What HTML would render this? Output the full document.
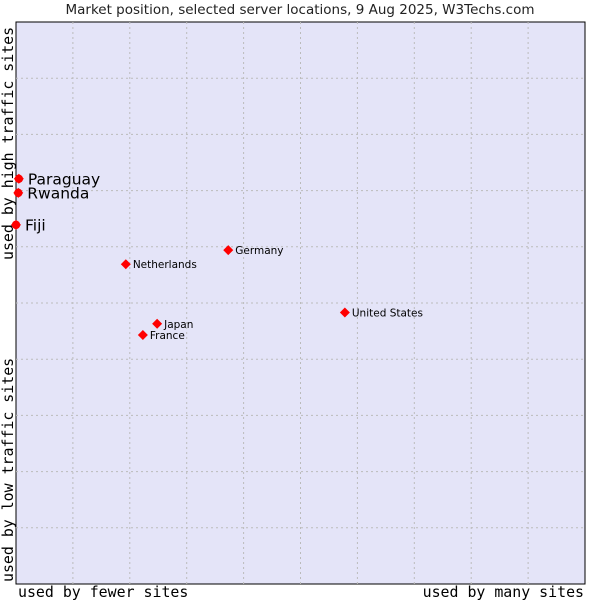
<!DOCTYPE html>
<html><head><meta charset="utf-8"><style>
body{margin:0;background:#fff;width:600px;height:600px;overflow:hidden}
svg{display:block}
</style></head><body>
<svg id="c" width="600" height="600" xmlns="http://www.w3.org/2000/svg">
<text x="300" y="14" text-anchor="middle" font-family="DejaVu Sans, sans-serif" font-size="13.5" fill="#222">Market position, selected server locations, 9 Aug 2025, W3Techs.com</text>
<rect x="16" y="22" width="569" height="562" fill="#e4e4f8" stroke="#000" stroke-width="1"/>
<g id="grid"></g>
<text x="18" y="597" font-family="DejaVu Sans Mono, monospace" font-size="14.9" fill="#000">used by fewer sites</text>
<text x="584" y="597" text-anchor="end" font-family="DejaVu Sans Mono, monospace" font-size="14.9" fill="#000">used by many sites</text>
<text transform="translate(13,582) rotate(-90)" font-family="DejaVu Sans Mono, monospace" font-size="14.9" fill="#000">used by low traffic sites</text>
<text transform="translate(13,260) rotate(-90)" font-family="DejaVu Sans Mono, monospace" font-size="14.9" fill="#000">used by high traffic sites</text>
<g id="pts"></g>
</svg>
<script>
const names=["Paraguay","Rwanda","Fiji","Netherlands","Germany","United States","Japan","France"];
const xVals=[0.05,0.04,0.0,1.93,3.73,5.78,2.48,2.23];
const yVals=[7.21,6.96,6.39,5.69,5.94,4.83,4.63,4.43];
const big=[true,true,true,false,false,false,false,false];
const NS="http://www.w3.org/2000/svg";
const X0=16,X1=585,Y0=584,Y1=22;
function sx(v){return X0+v/10*(X1-X0);}
function sy(v){return Y0-v/10*(Y0-Y1);}
const grid=document.getElementById('grid');
for(let i=1;i<10;i++){
 const l=document.createElementNS(NS,'line');
 
 
 l.setAttribute('x1',sx(i));l.setAttribute('x2',sx(i));l.setAttribute('y1',Y1);l.setAttribute('y2',Y0);
 l.setAttribute('stroke','#bbb');l.setAttribute('stroke-dasharray','2,3');grid.appendChild(l);
 const h=document.createElementNS(NS,'line');
 
 
 h.setAttribute('x1',X0);h.setAttribute('x2',X1);h.setAttribute('y1',sy(i));h.setAttribute('y2',sy(i));
 h.setAttribute('stroke','#bbb');h.setAttribute('stroke-dasharray','2,3');grid.appendChild(h);
}
const pts=document.getElementById('pts');
names.forEach((n,i)=>{
 const x=sx(xVals[i]),y=sy(yVals[i]);
 const c=document.createElementNS(NS,'path');
 
 
 const r=big[i]?5:5;
 c.setAttribute('d',`M${x-r},${y}L${x},${y-r}L${x+r},${y}L${x},${y+r}Z`);
 c.setAttribute('fill','#f00');pts.appendChild(c);
 if(big[i]){const cc=document.createElementNS(NS,'circle');cc.setAttribute('cx',x);cc.setAttribute('cy',y);cc.setAttribute('r',4.2);cc.setAttribute('fill','#f00');pts.appendChild(cc);}
 const t=document.createElementNS(NS,'text');
 
 
 t.setAttribute('x',x+(big[i]?9:7));t.setAttribute('y',y+(big[i]?5.5:4));
 t.setAttribute('font-family','DejaVu Sans, sans-serif');t.setAttribute('font-size',big[i]?15.5:10.5);
 t.setAttribute('fill','#000');t.textContent=n;pts.appendChild(t);
});
</script>
</body></html>
